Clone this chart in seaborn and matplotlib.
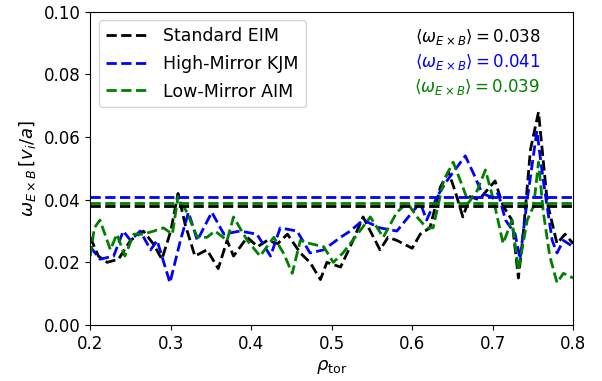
import seaborn as sns
import matplotlib.pyplot as plt
import pandas as pd

# values
rho_std = [0.200, 0.210, 0.221, 0.235, 0.250, 0.266, 0.278, 0.289, 0.300, 0.309, 0.318, 0.330, 0.345,
           0.359, 0.370, 0.378, 0.395, 0.408, 0.420, 0.433, 0.445, 0.461, 0.473, 0.486, 0.494, 0.511,
           0.523, 0.539, 0.550, 0.560, 0.570, 0.581, 0.600, 0.610, 0.622, 0.635, 0.645, 0.653, 0.663,
           0.672, 0.683, 0.693, 0.703, 0.713, 0.724, 0.732, 0.738, 0.747, 0.757, 0.768, 0.780, 0.790, 0.800]
w_std = [0.028, 0.022, 0.020, 0.021, 0.027, 0.030, 0.026, 0.021, 0.030, 0.042, 0.032, 0.022, 0.024,
         0.018, 0.027, 0.022, 0.028, 0.025, 0.027, 0.026, 0.029, 0.023, 0.020, 0.0145, 0.020, 0.0185,
         0.025, 0.0345, 0.029, 0.024, 0.028, 0.027, 0.0245, 0.029, 0.031, 0.044, 0.049, 0.043, 0.0345,
         0.041, 0.040, 0.043, 0.046, 0.038, 0.0335, 0.015, 0.029, 0.056, 0.068, 0.039, 0.026, 0.029, 0.026]

rho_high = [0.200, 0.212, 0.229, 0.241, 0.250, 0.262, 0.275, 0.283, 0.299, 0.312, 0.322, 0.333, 0.351,
            0.366, 0.386, 0.407, 0.424, 0.436, 0.457, 0.473, 0.490, 0.511, 0.523, 0.539, 0.560, 0.581,
            0.600, 0.610, 0.618, 0.631, 0.643, 0.656, 0.666, 0.676, 0.687, 0.697, 0.707, 0.716, 0.728,
            0.734, 0.743, 0.755, 0.763, 0.774, 0.780, 0.788, 0.800]
w_high = [0.025, 0.021, 0.022, 0.030, 0.027, 0.030, 0.024, 0.027, 0.0135, 0.027, 0.036, 0.027, 0.036,
          0.029, 0.030, 0.029, 0.022, 0.031, 0.030, 0.023, 0.024, 0.028, 0.030, 0.0335, 0.031, 0.030,
          0.036, 0.039, 0.0335, 0.041, 0.046, 0.0505, 0.054, 0.0485, 0.042, 0.041, 0.042, 0.0335, 0.029,
          0.021, 0.040, 0.062, 0.046, 0.027, 0.023, 0.027, 0.025]

rho_low = [0.200, 0.205, 0.212, 0.225, 0.233, 0.243, 0.254, 0.266, 0.279, 0.291, 0.302, 0.309, 0.320,
           0.333, 0.345, 0.355, 0.370, 0.378, 0.395, 0.411, 0.428, 0.440, 0.451, 0.461, 0.473, 0.490,
           0.502, 0.514, 0.532, 0.548, 0.564, 0.581, 0.594, 0.606, 0.618, 0.626, 0.639, 0.651, 0.663,
           0.670, 0.681, 0.691, 0.701, 0.713, 0.724, 0.732, 0.743, 0.751, 0.757, 0.763, 0.771, 0.780,
           0.788, 0.800]
w_low = [0.022, 0.031, 0.0335, 0.024, 0.029, 0.022, 0.029, 0.029, 0.030, 0.031, 0.029, 0.041, 0.036,
         0.028, 0.028, 0.030, 0.027, 0.0345, 0.027, 0.022, 0.028, 0.023, 0.0165, 0.027, 0.026, 0.025,
         0.020, 0.023, 0.029, 0.0345, 0.028, 0.036, 0.039, 0.0345, 0.031, 0.031, 0.046, 0.052, 0.044,
         0.039, 0.043, 0.0495, 0.040, 0.026, 0.0335, 0.0175, 0.0335, 0.038, 0.052, 0.036, 0.022, 0.0135,
         0.0165, 0.015]

labels = ["Standard EIM", "High-Mirror KJM", "Low-Mirror AIM"]
colors = ["black", "blue", "green"]
means = [0.038, 0.041, 0.039]

df = pd.concat([
    pd.DataFrame({"rho": rho_std, "omega": w_std, "case": labels[0]}),
    pd.DataFrame({"rho": rho_high, "omega": w_high, "case": labels[1]}),
    pd.DataFrame({"rho": rho_low, "omega": w_low, "case": labels[2]}),
])

fig, ax = plt.subplots(figsize=(6.02, 3.81), dpi=100)
fig.subplots_adjust(left=0.15, right=0.952, bottom=0.147, top=0.969)

sns.lineplot(data=df, x="rho", y="omega", hue="case", palette=colors, sort=False,
             linestyle="--", linewidth=2, ax=ax)

for m, c in zip(means, colors):
    ax.axhline(m, color=c, linestyle="--", linewidth=2)

for i, (m, c) in enumerate(zip(means, colors)):
    ax.text(0.932, 0.92 - 0.08 * i, r"$\langle\omega_{E\times B}\rangle = %.3f$" % m,
            color=c, fontsize=12, ha="right", va="center", transform=ax.transAxes)

ax.set_xlim(0.2, 0.8)
ax.set_ylim(0.0, 0.1)
ax.set_xlabel(r"$\rho_{\rm tor}$", fontsize=13)
ax.set_ylabel(r"$\omega_{E\times B}\,[v_i/a]$", fontsize=13)
ax.tick_params(labelsize=12)
ax.legend(loc="upper left", fontsize=12.5, title=None, handlelength=2.3,
          handletextpad=1.0, labelspacing=0.55)

fig.savefig("out.png", dpi=100)
